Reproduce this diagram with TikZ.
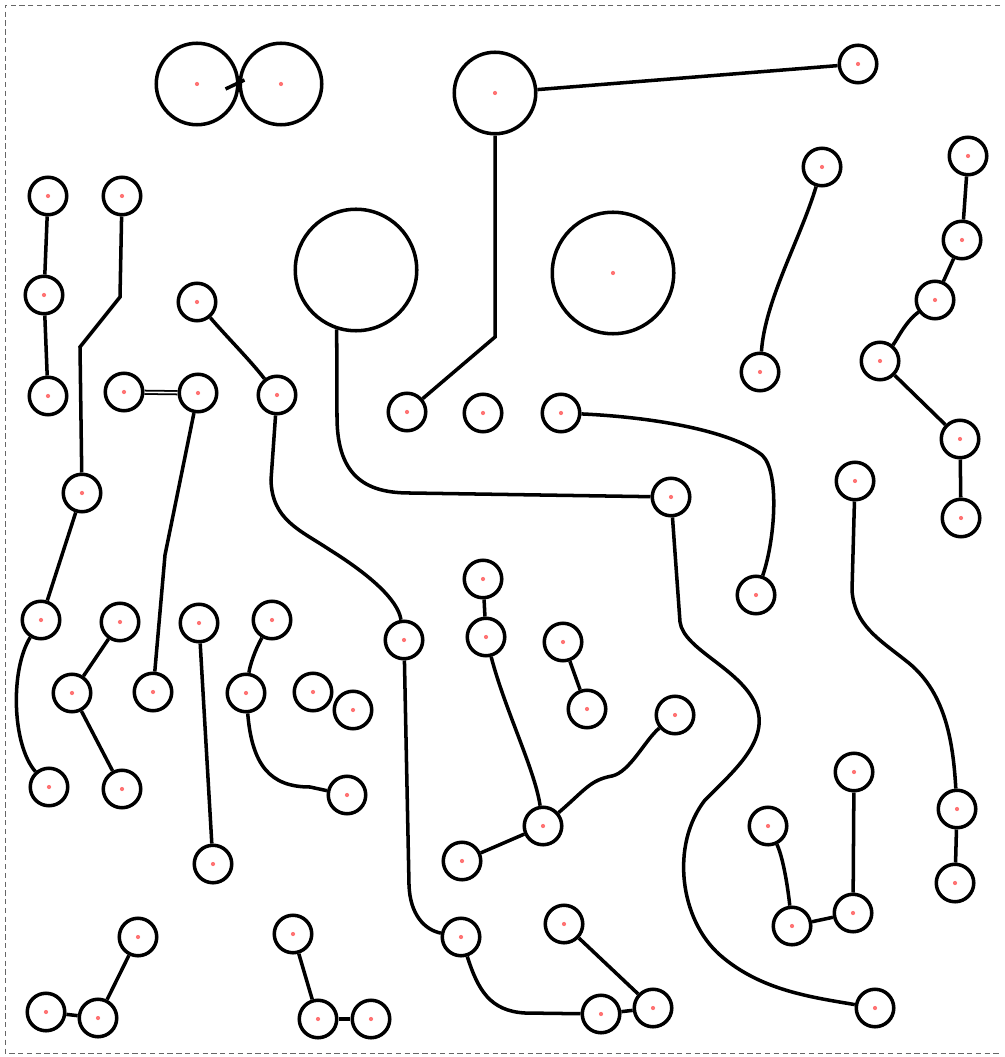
\documentclass[tikz,border=0pt]{standalone}
\usepackage{tikz}
\usetikzlibrary{calc}

\begin{document}
\begin{tikzpicture}[
    x=0.2mm, y=-0.2mm,
    line width=2pt,
    ring/.style={circle, draw, inner sep=0pt},
    dot/.style={path picture={\fill[red!55] (path picture bounding box.center) circle (1.2pt);}},
    pad/.style={ring, dot, minimum size=7.5mm},
    bigpad/.style={ring, dot, minimum size=16.3mm},
    hugepad/.style={ring, minimum size=24.3mm},
    frame/.style={draw=black!60, line width=0.5pt, densely dashed}
]
  \useasboundingbox (0,0) rectangle (1005,1057);
  \draw[frame] (1000,5) -- (5,5) -- (5,1053) -- (1000,1053);

  % big pads
  \node[bigpad] (A1) at (197,84) {};
  \node[bigpad] (A2) at (281,84) {};
  \node[bigpad] (B) at (495,93) {};
  \node[hugepad] (C) at (356,270) {};
  \node[hugepad, dot] (D) at (613,273) {};

  % left pads
  \node[pad] (L1) at (48,196) {};
  \node[pad] (L2) at (44,295) {};
  \node[pad] (L3) at (48,396) {};
  \node[pad] (L4) at (122,196) {};
  \node[pad] (L5) at (82,493) {};
  \node[pad] (L6) at (41,620) {};
  \node[pad] (L7) at (49,787) {};
  \node[pad] (L8) at (120,622) {};
  \node[pad] (L9) at (72,693) {};
  \node[pad] (L10) at (122,789) {};
  \node[pad] (L11) at (124,392) {};
  \node[pad] (L12) at (198,393) {};
  \node[pad] (L13) at (153,692) {};
  \node[pad] (L14) at (197,302) {};
  \node[pad] (L15) at (277,395) {};
  \node[pad] (L16) at (404,640) {};
  \node[pad] (L17) at (461,937) {};
  \node[pad] (L18) at (601,1014) {};
  \node[pad] (L19) at (653,1008) {};
  \node[pad] (L20) at (564,924) {};
  \node[pad] (L21) at (199,623) {};
  \node[pad] (L22) at (213,864) {};
  \node[pad] (L23) at (272,620) {};
  \node[pad] (L24) at (246,693) {};
  \node[pad] (L25) at (347,795) {};
  \node[pad] (L26) at (313,692) {};
  \node[pad] (L27) at (353,710) {};
  \node[pad] (L28) at (138,937) {};
  \node[pad] (L29) at (98,1018) {};
  \node[pad] (L30) at (46,1012) {};
  \node[pad] (L31) at (293,934) {};
  \node[pad] (L32) at (318,1019) {};
  \node[pad] (L33) at (371,1019) {};

  % middle pads
  \node[pad] (M1) at (407,412) {};
  \node[pad] (M2) at (483,413) {};
  \node[pad] (M3) at (561,413) {};
  \node[pad] (M4) at (671,497) {};
  \node[pad] (M5) at (756,595) {};
  \node[pad] (M6) at (875,1008) {};
  \node[pad] (M7) at (483,579) {};
  \node[pad] (M8) at (486,637) {};
  \node[pad] (M9) at (543,826) {};
  \node[pad] (M10) at (675,715) {};
  \node[pad] (M11) at (462,861) {};
  \node[pad] (M12) at (563,642) {};
  \node[pad] (M13) at (587,709) {};

  % right pads
  \node[pad] (R1) at (858,64) {};
  \node[pad] (R2) at (822,167) {};
  \node[pad] (R3) at (760,372) {};
  \node[pad] (R4) at (968,156) {};
  \node[pad] (R5) at (962,240) {};
  \node[pad] (R6) at (935,300) {};
  \node[pad] (R7) at (880,361) {};
  \node[pad] (R8) at (960,439) {};
  \node[pad] (R9) at (961,518) {};
  \node[pad] (R10) at (855,481) {};
  \node[pad] (R11) at (957,809) {};
  \node[pad] (R12) at (955,883) {};
  \node[pad] (R13) at (768,826) {};
  \node[pad] (R14) at (792,926) {};
  \node[pad] (R15) at (853,913) {};
  \node[pad] (R16) at (854,772) {};

  % traces
  \draw ([shift={(-14,5)}]A1.east) -- ([shift={(6,-4)}]A2.west);
  \draw (B) -- (R1);
  \draw (B) -- (495,337) -- (M1);
  \draw (C.252) -- (337,417) .. controls (337,480) and (370,493) .. (410,493) -- (M4);
  \draw (L1) -- (L2);
  \draw (L2) -- (L3);
  \draw (L4) -- (120,297) -- (80,347) -- (L5);
  \draw (L5) -- (L6);
  \draw (L6) .. controls (10,670) and (12,745) .. (L7);
  \draw (L8) -- (L9);
  \draw (L9) -- (L10);
  \draw[double, double distance=0.9pt, line width=1pt] (L11) -- (L12);
  \draw (L12) -- (165,555) -- (L13);
  \draw (L14) .. controls (225,335) and (250,360) .. (L15);
  \draw (L15) -- (271,480) .. controls (272,520) and (300,530) .. (330,550)
    .. controls (370,575) and (398,600) .. (L16);
  \draw (L16) -- (409,885) .. controls (410,915) and (425,930) .. (L17);
  \draw (L17) .. controls (478,990) and (490,1011) .. (525,1013) -- (L18);
  \draw (L18) -- (L19);
  \draw (L20) -- (L19);
  \draw (L21) -- (L22);
  \draw (L23) .. controls (255,650) and (250,665) .. (L24);
  \draw (L24) .. controls (252,765) and (270,787) .. (310,787) -- (L25);
  \draw (L28) -- (L29);
  \draw (L29) -- (L30);
  \draw (L31) -- (L32);
  \draw (L32) -- (L33);
  \draw (M3) .. controls (650,417) and (730,430) .. (762,455)
    .. controls (780,472) and (775,540) .. (M5);
  \draw (M4) -- (680,622) .. controls (684,650) and (740,668) .. (756,705)
    .. controls (770,740) and (735,770) .. (705,800)
    .. controls (670,845) and (680,920) .. (720,955)
    .. controls (760,990) and (810,997) .. (M6);
  \draw (M7) -- (M8);
  \draw (M8) .. controls (505,710) and (535,770) .. (M9);
  \draw (M9) .. controls (585,790) and (590,780) .. (612,776)
    .. controls (630,772) and (645,740) .. (M10);
  \draw (M9) -- (M11);
  \draw (M12) -- (M13);
  \draw (R2) .. controls (800,240) and (765,300) .. (R3);
  \draw (R4) -- (R5);
  \draw (R5) -- (R6);
  \draw (R6) .. controls (905,322) and (897,340) .. (R7);
  \draw (R7) -- (R8);
  \draw (R8) -- (R9);
  \draw (R10) -- (852,590) .. controls (854,625) and (880,640) .. (905,660)
    .. controls (945,690) and (953,740) .. (R11);
  \draw (R11) -- (R12);
  \draw (R13) .. controls (782,855) and (787,880) .. (R14);
  \draw (R14) -- (R15);
  \draw (R15) -- (R16);
\end{tikzpicture}
\end{document}
